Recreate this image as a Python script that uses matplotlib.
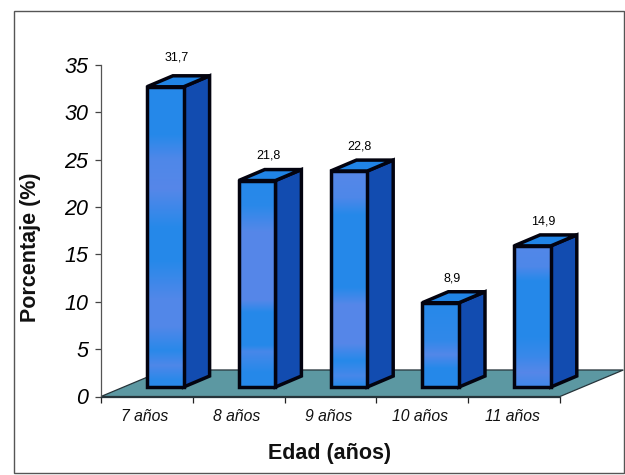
import numpy as np
import matplotlib
matplotlib.use("Agg")
import matplotlib.pyplot as plt
from matplotlib.colors import to_rgb
from matplotlib.patches import Polygon, Rectangle

categories = ["7 años", "8 años", "9 años", "10 años", "11 años"]
values = [31.7, 21.8, 22.8, 8.9, 14.9]
value_labels = ["31,7", "21,8", "22,8", "8,9", "14,9"]

# Shading of each front face: (height fraction from base, share of periwinkle)
shading = [
    [(0, .1), (.02, .1), (.07, .6), (.12, .1), (.2, .65), (.29, .65), (.42, .05), (.53, .05), (.66, .7), (.76, .6), (.84, .05), (1, .05)],
    [(0, .05), (.07, .05), (.17, .5), (.2, .05), (.36, .05), (.42, .7), (.75, .7), (.88, .1), (1, .05)],
    [(0, .05), (.05, .5), (.12, .05), (.2, .7), (.38, .7), (.46, .05), (.8, .05), (.88, .6), (1, .7)],
    [(0, .05), (.22, .05), (.38, .65), (.55, .2), (1, .05)],
    [(0, .4), (.1, .7), (.22, .3), (.35, .05), (.75, .05), (.85, .6), (1, .65)],
]

BLUE = np.array(to_rgb("#2289ea"))
PERI = np.array(to_rgb("#6c86e8"))
SIDE = "#124cb0"
TOP = "#2084e6"
FLOOR = "#5c98a2"
BW = 0.40      # bar width, category units
BASE = 1.0     # bar base lift, y units
DX, DY = 0.283, 1.16    # bar depth
FDX, FDY = 0.69, 2.8    # floor depth
EDGE = dict(edgecolor="#03030f", linewidth=2.5, joinstyle="miter", clip_on=False)

plt.rcParams["font.family"] = ["Liberation Sans", "DejaVu Sans"]
W, H = 625, 475
fig = plt.figure(figsize=(W / 100, H / 100), dpi=100, facecolor="white")
ax = fig.add_axes([101 / W, 1 - 396.5 / H, 459 / W, 331.5 / H], facecolor="none")

fig.add_artist(Rectangle((14 / W, 1 - 473 / H), 610 / W, 462 / H, transform=fig.transFigure,
                         fill=False, edgecolor="#555555", linewidth=1.0))

ax.add_patch(Polygon([(0, 0), (5, 0), (5 + FDX, FDY), (FDX, FDY)], closed=True,
                     facecolor=FLOOR, edgecolor="#26343a", linewidth=0.9, clip_on=False, zorder=1))

for i, v in enumerate(values):
    x0, x1 = i + 0.5, i + 0.5 + BW
    y0, y1 = BASE, BASE + v
    ax.add_patch(Polygon([(x1, y0), (x1 + DX, y0 + DY), (x1 + DX, y1 + DY), (x1, y1)], closed=True,
                         facecolor=SIDE, zorder=3, **EDGE))
    ax.add_patch(Polygon([(x0, y1), (x1, y1), (x1 + DX, y1 + DY), (x0 + DX, y1 + DY)], closed=True,
                         facecolor=TOP, zorder=3, **EDGE))
    t = np.linspace(0, 1, 200)
    fr, mix = zip(*shading[i])
    m = np.interp(t, fr, mix)[:, None, None]
    img = (1 - m) * BLUE[None, None, :] + m * PERI[None, None, :]
    ax.imshow(img, extent=(x0, x1, y0, y1), origin="lower", aspect="auto", zorder=4,
              interpolation="bilinear", clip_on=False)
    ax.add_patch(Rectangle((x0, y0), BW, v, facecolor="none", zorder=5, **EDGE))
    ax.text(i + 0.82, v + 3.6 + (0.45 if i == 0 else 0), value_labels[i], ha="center", va="center",
            fontsize=9, color="black", zorder=6)

ax.set_xlim(0, 5)
ax.set_ylim(0, 35)
ax.set_yticks(range(0, 36, 5))
ax.tick_params(axis="y", labelsize=15.5, length=4, width=0.9, color="#444444", pad=5)
for lab in ax.get_yticklabels():
    lab.set_fontstyle("italic")
ax.set_xticks(range(6))
ax.set_xticklabels([])
ax.set_xticks([i + 0.48 for i in range(5)], minor=True)
ax.set_xticklabels(categories, minor=True, fontsize=11.3, fontstyle="italic", color="#111111")
ax.tick_params(axis="x", which="major", length=4, width=0.9, color="#222222")
ax.tick_params(axis="x", which="minor", length=0, pad=9)
for s in ("top", "right"):
    ax.spines[s].set_visible(False)
ax.spines["left"].set_color("#555555")
ax.spines["left"].set_linewidth(0.9)
ax.spines["bottom"].set_color("#26343a")
ax.spines["bottom"].set_linewidth(0.9)

fig.text(330 / W, 1 - 453 / H, "Edad (años)", fontsize=15.5, fontweight="bold",
         ha="center", va="center", color="#111111")
fig.text(31 / W, 1 - 247 / H, "Porcentaje (%)", fontsize=15.5, fontweight="bold",
         rotation=90, ha="center", va="center", color="#111111")

fig.savefig("out.png", dpi=100, facecolor="white")
